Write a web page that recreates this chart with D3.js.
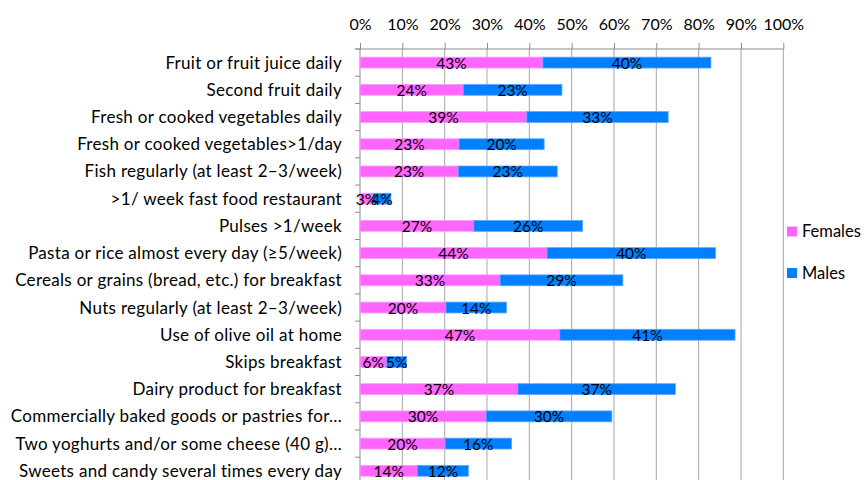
<!DOCTYPE html>
<html>
<head>
<meta charset="utf-8">
<script src="https://cdn.jsdelivr.net/npm/d3@7"></script>
<style>
  body { margin: 0; background: #fff; }
  text { font-family: Lato, "Liberation Sans", sans-serif; fill: #000; }
</style>
</head>
<body>
<div id="grafico"></div>
<script>
const categorias = [
  "Fruit or fruit juice daily",
  "Second fruit daily",
  "Fresh or cooked vegetables daily",
  "Fresh or cooked vegetables>1/day",
  "Fish regularly (at least 2\u20133/week)",
  ">1/ week fast food restaurant",
  "Pulses >1/week",
  "Pasta or rice almost every day (\u22655/week)",
  "Cereals or grains (bread, etc.) for breakfast",
  "Nuts regularly (at least 2\u20133/week)",
  "Use of olive oil at home",
  "Skips breakfast",
  "Dairy product for breakfast",
  "Commercially baked goods or pastries for\u2026",
  "Two yoghurts and/or some cheese (40 g)\u2026",
  "Sweets and candy several times every day"
];
const femininos = [43.2, 24.4, 39.4, 23.4, 23.2, 3.1, 26.9, 44.2, 33.1, 20.3, 47.2, 6.3, 37.3, 29.8, 20.1, 13.6];
const masculinos = [39.7, 23.3, 33.4, 20.1, 23.4, 4.2, 25.7, 39.8, 29.0, 14.3, 41.4, 4.7, 37.2, 29.7, 15.7, 12.0];
const series = ["Females", "Males"];
const cores = ["#FF66FF", "#0080FF"];
const bordas = ["#FF9CFF", "#5AA8FF"];
const ticksX = [0, 10, 20, 30, 40, 50, 60, 70, 80, 90, 100];

const width = 867, height = 480;
const svg = d3.select("#grafico").append("svg")
  .attr("width", width).attr("height", height);

const x = d3.scaleLinear().domain([0, 100]).range([360, 783.3]);
const y = d3.scaleBand().domain(categorias).range([49, 484.4]).paddingInner(0.6).paddingOuter(0.3);

// linhas de grade
svg.append("g").selectAll("line")
  .data(ticksX.slice(1))
  .enter().append("line")
  .attr("x1", d => x(d)).attr("x2", d => x(d))
  .attr("y1", 49).attr("y2", height)
  .attr("stroke", "#a6a6a6").attr("stroke-width", 1);

// eixo superior
const eixoX = d3.axisTop(x).tickValues(ticksX).tickSize(6).tickPadding(13)
  .tickFormat(d => d + "%");
const gx = svg.append("g").attr("transform", "translate(0,49)").call(eixoX);
gx.select(".domain").attr("stroke", "#8c8c8c").attr("d", "M355,0H783.3");
gx.selectAll(".tick line").attr("stroke", "#8c8c8c");
gx.selectAll(".tick text").attr("font-size", 16).attr("font-family", "Lato, sans-serif").attr("fill", "#000");

// eixo esquerdo
const limites = d3.range(categorias.length + 1).map(i => 49 + i * (484.4 - 49) / categorias.length);
svg.append("line").attr("x1", 360).attr("x2", 360).attr("y1", 49).attr("y2", height)
  .attr("stroke", "#8c8c8c");
svg.append("g").selectAll("line").data(limites).enter().append("line")
  .attr("x1", 355).attr("x2", 360).attr("y1", d => d).attr("y2", d => d)
  .attr("stroke", "#8c8c8c");

svg.append("g").selectAll("text").data(categorias).enter().append("text")
  .attr("x", 342)
  .attr("y", d => y(d) + y.bandwidth() / 2 + 6)
  .attr("text-anchor", "end")
  .attr("font-size", 17)
  .attr("letter-spacing", 0.3)
  .text(d => d);

// barras empilhadas
const dados = categorias.map((c, i) => ({ categoria: c, Females: femininos[i], Males: masculinos[i] }));
const pilha = d3.stack().keys(series)(dados);

pilha.forEach((camada, k) => {
  const g = svg.append("g");
  g.selectAll("rect").data(camada).enter().append("rect")
    .attr("x", d => x(d[0]))
    .attr("y", d => y(d.data.categoria))
    .attr("width", d => x(d[1]) - x(d[0]))
    .attr("height", y.bandwidth())
    .attr("fill", cores[k])
    .attr("stroke", bordas[k])
    .attr("stroke-width", 0.8);
});

pilha.forEach(camada => {
  svg.append("g").selectAll("text").data(camada).enter().append("text")
    .attr("x", d => (x(d[0]) + x(d[1])) / 2)
    .attr("y", d => y(d.data.categoria) + y.bandwidth() / 2 + 6)
    .attr("text-anchor", "middle")
    .attr("font-size", 15.5)
    .text(d => Math.round(d[1] - d[0]) + "%");
});

// legenda
const legenda = svg.append("g");
series.forEach((s, i) => {
  legenda.append("rect").attr("x", 787).attr("y", 226.5 + i * 41.5)
    .attr("width", 10).attr("height", 10).attr("fill", cores[i]);
  legenda.append("text").attr("x", 802).attr("y", 237 + i * 41.5)
    .attr("font-size", 16.5).text(s);
});
</script>
</body>
</html>
